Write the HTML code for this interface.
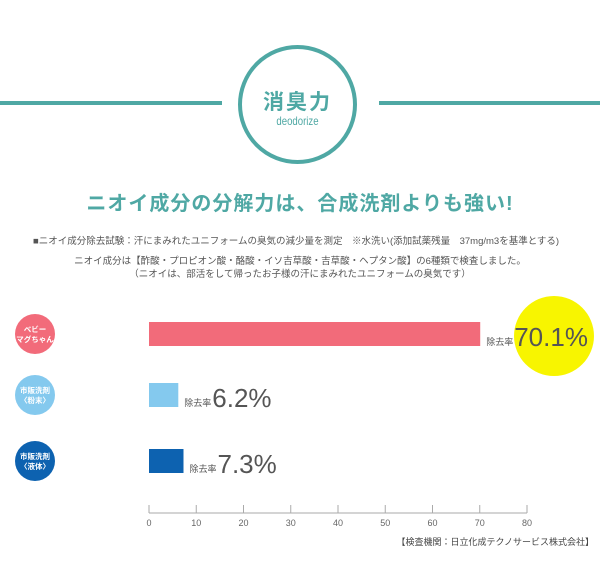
<!DOCTYPE html>
<html><head><meta charset="utf-8">
<style>
body{margin:0;width:600px;height:579px;background:#fff;font-family:"Liberation Sans","Noto Sans CJK JP",sans-serif;position:relative;overflow:hidden}
.a{position:absolute;white-space:nowrap}
</style></head><body>
<div class="a" style="left:0;top:101px;width:222px;height:4px;background:#4fa8a4"></div>
<div class="a" style="left:379px;top:101px;width:221px;height:4px;background:#4fa8a4"></div>
<div class="a" style="left:238px;top:45px;width:111px;height:111px;border:4px solid #4fa8a4;border-radius:50%"></div>
<div class="a" style="left:238px;width:119px;text-align:center;top:86px;font-size:21px;font-weight:bold;color:#4fa8a4;letter-spacing:2px">消臭力</div>
<div class="a" style="left:238px;width:119px;text-align:center;top:114px;font-size:12px;color:#4fa8a4;transform:scaleX(.8)">deodorize</div>
<div class="a" style="left:0;width:600px;text-align:center;top:187px;font-size:20px;font-weight:bold;color:#4fa8a4;letter-spacing:1px">ニオイ成分の分解力は、合成洗剤よりも強い!</div>
<div class="a" style="left:33px;top:233px;font-size:9.5px;color:#555">■ニオイ成分除去試験：汗にまみれたユニフォームの臭気の減少量を測定　※水洗い(添加試薬残量　37mg/m3を基準とする)</div>
<div class="a" style="left:0;width:600px;text-align:center;top:253px;font-size:9.5px;color:#555">ニオイ成分は【酢酸・プロピオン酸・酪酸・イソ吉草酸・吉草酸・ヘプタン酸】の6種類で検査しました。</div>
<div class="a" style="left:0;width:600px;text-align:center;top:266px;font-size:9.5px;color:#555">（ニオイは、部活をして帰ったお子様の汗にまみれたユニフォームの臭気です）</div>
<div class="a" style="left:514px;top:296px;width:80px;height:80px;border-radius:50%;background:#f8f500"></div>
<svg class="a" id="chart" style="left:0;top:0" width="600" height="579"></svg>
<div class="a" style="right:6px;top:535px;font-size:9px;color:#444">【検査機関：日立化成テクノサービス株式会社】</div>
<script>
const categories=["ベビーマグちゃん","市販洗剤（粉末）","市販洗剤（液体）"];
const values=[70.1,6.2,7.3];
const ticks=[0,10,20,30,40,50,60,70,80];
const colors=["#f26b7a","#84c9ee","#0d62b0"];
const svg=document.getElementById('chart');
const NS='http://www.w3.org/2000/svg';
const x0=149,x1=527,xs=v=>x0+(v-0)/(80-0)*(x1-x0);
const rowY=[334,395,461];
function mk(t,a,txt){const e=document.createElementNS(NS,t);for(const k in a)e.setAttribute(k,a[k]);if(txt!=null)e.textContent=txt;svg.appendChild(e);return e;}
let ax=mk('line',{x1:x0,x2:x1,y1:513,y2:513,stroke:'#aaa','stroke-width':1});


ticks.forEach(t=>{
 let l=mk('line',{x1:xs(t),x2:xs(t),y1:505,y2:513,stroke:'#aaa'});
 
 
 let tx=mk('text',{x:xs(t),y:526,'text-anchor':'middle','font-size':9,fill:'#666'},t);
 
 
});
const labels=[["ベビー","マグちゃん"],["市販洗剤","〈粉末〉"],["市販洗剤","〈液体〉"]];
values.forEach((v,i)=>{
 const cy=rowY[i];
 let c=mk('circle',{cx:35,cy:cy,r:20,fill:colors[i]});
 
 
 labels[i].forEach((s,j)=>{let t=mk('text',{x:35,y:cy-2+j*10,'text-anchor':'middle','font-size':7.5,'font-weight':'bold',fill:'#fff'},s);
 
 });
 const w=xs(v)-x0;
 let b=mk('rect',{x:x0,y:cy-12,width:w,height:24,fill:colors[i]});
 
 
 const lx=xs(v)+6;
 let t1=mk('text',{x:lx,y:cy+11,'font-size':9,fill:'#555'},'除去率');
 
 
 let t2=mk('text',{x:lx+28,y:cy+12,'font-size':26,fill:'#555'},v.toFixed(1)+'%');
 
 
});
</script>
</body></html>
